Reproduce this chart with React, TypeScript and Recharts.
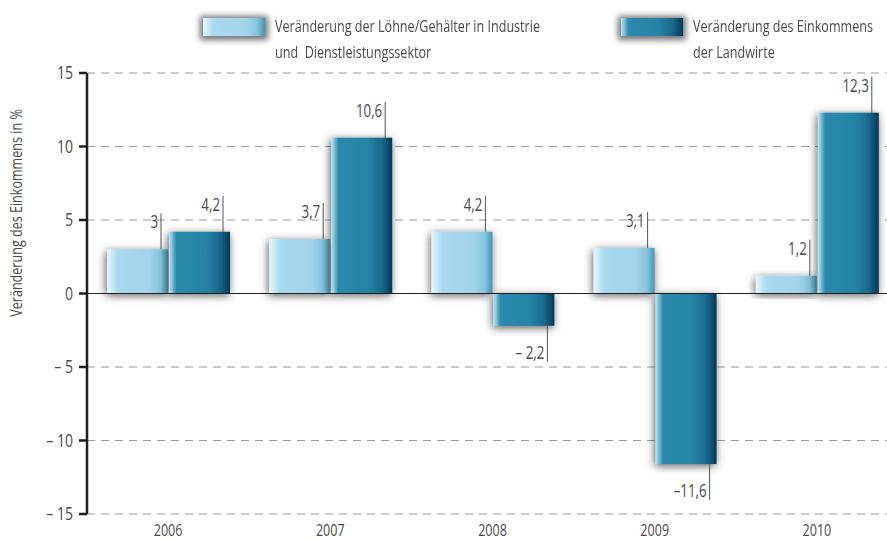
import { ComposedChart, Bar, XAxis, YAxis, CartesianGrid, ReferenceLine, LabelList } from 'recharts';

const years = ['2006', '2007', '2008', '2009', '2010'];
const wages = [3, 3.7, 4.2, 3.1, 1.2];
const farmers = [4.2, 10.6, -2.2, -11.6, 12.3];
const yTicks = [-15, -10, -5, 0, 5, 10, 15];

const legendLabels = [
  ['Veränderung der Löhne/Gehälter in Industrie', 'und  Dienstleistungssektor'],
  ['Veränderung des Einkommens', 'der Landwirte'],
];

const data = years.map((year, i) => ({ year, wages: wages[i], farmers: farmers[i] }));

const FONT = '"Open Sans", "Noto Sans", sans-serif';
const TEXT = '#4a4a4a';
const SX = 0.74; // squeeze glyphs to get a condensed look

const lightGrad = 'linear-gradient(to right, #eaf6fb 0%, #a8d9ee 18%, #a2d3ea 70%, #86c2db 88%, #3e98b6 100%)';
const darkGrad = 'linear-gradient(to right, #c4e5f1 0%, #2b8aab 12%, #2683a5 60%, #1a6b8e 82%, #003a5e 100%)';

const fmt = (v: number) => {
  const s = Math.abs(v).toString().replace('.', ',');
  if (v >= 0) return s;
  return Math.abs(v) >= 10 ? `–${s}` : `– ${s}`;
};

const CText = ({ x, y, anchor = 'middle', size = 17, children }: any) => (
  <text
    transform={`translate(${x},${y}) scale(${SX},1)`}
    textAnchor={anchor}
    fontSize={size}
    fontFamily={FONT}
    fill={TEXT}
  >
    {children}
  </text>
);

const ShadowBar = (props: any) => {
  const { x, y, width, height, fill } = props;
  const top = Math.min(y, y + height);
  const h = Math.abs(height);
  return <rect x={x} y={top} width={width} height={h} fill={fill} filter="url(#barShadow)" />;
};

const Callout = (props: any) => {
  const { x, y, width, height, value } = props;
  const top = Math.min(y, y + height);
  const bottom = Math.max(y, y + height);
  const lx = x + width - 7;
  if (value >= 0) {
    return (
      <g>
        <line x1={lx} x2={lx} y1={top - 36} y2={top} stroke="#555" strokeWidth={1} />
        <CText x={lx - 3} y={top - 21} anchor="end" size={18}>
          {fmt(value)}
        </CText>
      </g>
    );
  }
  return (
    <g>
      <line x1={lx} x2={lx} y1={bottom} y2={bottom + 36} stroke="#555" strokeWidth={1} />
      <CText x={lx - 3} y={bottom + 33} anchor="end" size={18}>
        {fmt(value)}
      </CText>
    </g>
  );
};

const YTick = (props: any) => {
  const { x, y, payload } = props;
  const v = payload.value as number;
  return (
    <CText x={x} y={y + 6} anchor="end" size={19}>
      {v < 0 ? `– ${-v}` : `${v}`}
    </CText>
  );
};

const XTick = (props: any) => {
  const { x, y, payload } = props;
  return (
    <CText x={x} y={y + 22} size={17}>
      {payload.value}
    </CText>
  );
};

const Swatch = ({ bg }: { bg: string }) => (
  <div
    style={{
      width: 62,
      height: 18,
      background: bg,
      boxShadow: '0 1px 6px 3px rgba(80,80,80,0.8)',
      flex: 'none',
      marginTop: 2,
    }}
  />
);

export default function App() {
  return (
    <div
      style={{
        position: 'absolute',
        left: 0,
        top: 0,
        width: 887,
        height: 540,
        overflow: 'hidden',
        background: '#fff',
        fontFamily: FONT,
      }}
    >
      <ComposedChart
        width={898}
        height={540}
        data={data}
        margin={{ top: 73, right: 0, left: 0, bottom: 0 }}
        barGap={1}
        barSize={61}
      >
        <defs>
          <linearGradient id="lightFill" x1="0" y1="0" x2="1" y2="0">
            <stop offset="0%" stopColor="#eaf6fb" />
            <stop offset="18%" stopColor="#a8d9ee" />
            <stop offset="70%" stopColor="#a2d3ea" />
            <stop offset="88%" stopColor="#86c2db" />
            <stop offset="100%" stopColor="#3e98b6" />
          </linearGradient>
          <linearGradient id="darkFill" x1="0" y1="0" x2="1" y2="0">
            <stop offset="0%" stopColor="#c4e5f1" />
            <stop offset="12%" stopColor="#2b8aab" />
            <stop offset="60%" stopColor="#2683a5" />
            <stop offset="82%" stopColor="#1a6b8e" />
            <stop offset="100%" stopColor="#003a5e" />
          </linearGradient>
          <filter id="barShadow" x="-30%" y="-30%" width="160%" height="160%">
            <feDropShadow dx={-1} dy={2} stdDeviation={4.5} floodColor="#4a4a4a" floodOpacity={0.9} />
          </filter>
        </defs>
        <CartesianGrid vertical={false} stroke="#9a9a9a" strokeDasharray="8 6" />
        <XAxis
          dataKey="year"
          height={26}
          axisLine={false}
          tickLine={false}
          tickSize={0}
          tickMargin={0}
          tick={XTick}
        />
        <YAxis
          width={87}
          domain={[-15, 15]}
          ticks={yTicks}
          interval={0}
          axisLine={{ stroke: '#231f20', strokeWidth: 2.5 }}
          tickLine={{ stroke: '#231f20', strokeWidth: 2.5 }}
          tickSize={8}
          tickMargin={6}
          tick={YTick}
          label={{
            content: () => (
              <text
                transform={`translate(22,213) rotate(-90) scale(${SX},1)`}
                textAnchor="middle"
                fontSize={17}
                fill={TEXT}
                fontFamily={FONT}
              >
                Veränderung des Einkommens in %
              </text>
            ),
          }}
        />
        <ReferenceLine y={0} stroke="#231f20" strokeWidth={1.2} />
        <Bar dataKey="wages" fill="url(#lightFill)" shape={ShadowBar} isAnimationActive={false}>
          <LabelList dataKey="wages" content={Callout} />
        </Bar>
        <Bar dataKey="farmers" fill="url(#darkFill)" shape={ShadowBar} isAnimationActive={false}>
          <LabelList dataKey="farmers" content={Callout} />
        </Bar>
      </ComposedChart>

      {[lightGrad, darkGrad].map((bg, i) => (
        <div
          key={i}
          style={{
            position: 'absolute',
            top: 16,
            left: i === 0 ? 203 : 621,
            display: 'flex',
            alignItems: 'flex-start',
            gap: 10,
          }}
        >
          <Swatch bg={bg} />
          <div
            style={{
              fontSize: 17,
              color: TEXT,
              lineHeight: '26px',
              marginTop: -3,
              whiteSpace: 'pre',
              transform: `scaleX(${SX})`,
              transformOrigin: 'left top',
            }}
          >
            {legendLabels[i][0]}
            <br />
            {legendLabels[i][1]}
          </div>
        </div>
      ))}
    </div>
  );
}
